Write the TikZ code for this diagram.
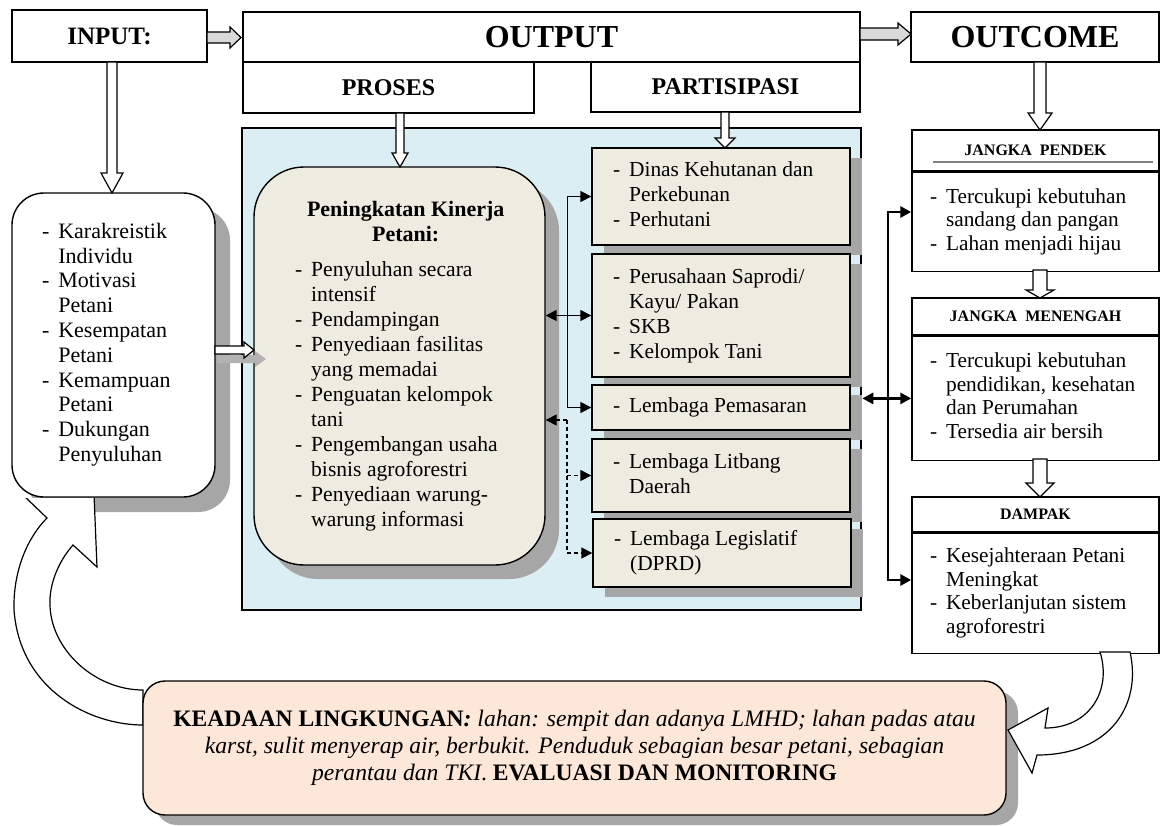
\documentclass[tikz,border=0pt]{standalone}
\usepackage{fontspec}
\setmainfont{Liberation Serif}
\usetikzlibrary{arrows.meta,shadows,positioning}

\definecolor{panelblue}{HTML}{DBEEF3}
\definecolor{kinbeige}{HTML}{EEECE1}
\definecolor{envpeach}{HTML}{FCE7D9}
\definecolor{arrowgray}{HTML}{D9D9D9}
\definecolor{shadegray}{HTML}{A6A6A6}

\tikzset{tri/.tip={Triangle[length=5.5pt,width=5.5pt]}}
\tikzstyle{titlebox} = [draw, line width=0.7pt, inner sep=0pt, fill=white, font=\bfseries]
\tikzstyle{listbox} = [draw, line width=0.7pt, inner sep=0pt, fill=kinbeige, minimum width=129pt, font=\fontsize{10.7}{12.5}\selectfont, drop shadow={shadow xshift=6pt, shadow yshift=-5pt, fill=shadegray, opacity=1}]
\tikzstyle{headbox} = [draw, line width=0.7pt, inner sep=0pt, fill=white, minimum width=123.5pt, font=\fontsize{8}{9}\selectfont\bfseries]
\tikzstyle{bodybox} = [draw, line width=0.7pt, inner sep=0pt, fill=white, minimum width=123.5pt, font=\fontsize{10.65}{11.8}\selectfont]
\tikzstyle{conn} = [line width=0.8pt, tri-tri]
\tikzstyle{bus} = [line width=1.4pt, tri-tri]
\tikzstyle{blockarrow} = [draw, line width=0.6pt, fill=white]

% list with dashes, fixed width, left aligned
\newcommand{\lbox}[2]{\makebox[#1][l]{\begin{tabular}{@{}l@{\hspace{4.5pt}}l@{}}#2\end{tabular}}}
% block arrows: [fill]{x}{y1}{y2}{shaft}{head}{head length}
\newcommand{\blockdown}[7][white]{\filldraw[blockarrow, fill=#1] (#2-#5,#3) -- (#2+#5,#3) -- (#2+#5,#4-#7) -- (#2+#6,#4-#7) -- (#2,#4) -- (#2-#6,#4-#7) -- (#2-#5,#4-#7) -- cycle;}
\newcommand{\blockright}[7][white]{\filldraw[blockarrow, fill=#1] (#3,#2-#5) -- (#4-#7,#2-#5) -- (#4-#7,#2-#6) -- (#4,#2) -- (#4-#7,#2+#6) -- (#4-#7,#2+#5) -- (#3,#2+#5) -- cycle;}

\begin{document}
\begin{tikzpicture}[x=0.5pt,y=-0.5pt]
\useasboundingbox (0,0) rectangle (1161,825);

% top row
\node[titlebox, minimum width=97.5pt, minimum height=26pt, font=\fontsize{12.5}{14}\selectfont\bfseries] (input) at (109.5,36) {INPUT:};
\node[titlebox, minimum width=308.5pt, minimum height=25pt, font=\fontsize{16}{18}\selectfont\bfseries] (output) at (551.5,37) {OUTPUT};
\node[titlebox, minimum width=145.5pt, minimum height=25.5pt, font=\fontsize{12}{14}\selectfont\bfseries] (proses) at (388.5,87.5) {PROSES};
\node[titlebox, minimum width=134.5pt, minimum height=25pt, font=\fontsize{12}{14}\selectfont\bfseries] (partisipasi) at (725.5,87) {PARTISIPASI};
\node[titlebox, minimum width=124pt, minimum height=25pt, font=\fontsize{16}{18}\selectfont\bfseries] (outcome) at (1035,37) {OUTCOME};

% panel
\node[draw, line width=1.3pt, fill=panelblue, minimum width=309.5pt, minimum height=241pt, inner sep=0pt] (panel) at (551.5,369) {};

\node[draw, line width=0.7pt, fill=kinbeige, rounded corners=25pt, minimum width=145.5pt, minimum height=199pt, inner sep=0pt, font=\fontsize{10.8}{12.5}\selectfont, drop shadow={shadow xshift=7pt, shadow yshift=-7pt, fill=shadegray, opacity=1}] (kin) at (399.5,366) {\lbox{104.5pt}{%
\multicolumn{2}{c}{\fontsize{11}{12.5}\selectfont\bfseries Peningkatan Kinerja}\\
\multicolumn{2}{c}{\fontsize{11}{12.5}\selectfont\bfseries Petani:}\\[5pt]
- & Penyuluhan secara\\ & intensif\\
- & Pendampingan\\
- & Penyediaan fasilitas\\ & yang memadai\\
- & Penguatan kelompok\\ & tani\\
- & Pengembangan usaha\\ & bisnis agroforestri\\
- & Penyediaan warung-\\ & warung informasi}};

\node[listbox, minimum height=48.5pt] (p1) at (721,196.5) {\lbox{108pt}{- & Dinas Kehutanan dan\\ & Perkebunan\\ - & Perhutani}};
\node[listbox, minimum height=61.5pt] (p2) at (721,315.5) {\lbox{108pt}{- & Perusahaan Saprodi/\\ & Kayu/ Pakan\\ - & SKB\\ - & Kelompok Tani}};
\node[listbox, minimum height=22.5pt] (p3) at (721,407.5) {\lbox{108pt}{- & Lembaga Pemasaran}};
\node[listbox, minimum height=36.5pt] (p4) at (721,475.5) {\lbox{108pt}{- & Lembaga Litbang\\ & Daerah}};
\node[listbox, minimum height=34pt] (p5) at (722,553) {\lbox{108pt}{- & Lembaga Legislatif\\ & (DPRD)}};

% outcome column
\node[headbox, minimum height=20.5pt] (h1) at (1035.5,150.5) {JANGKA\hspace{4pt}PENDEK};
\node[bodybox, minimum height=49.5pt, below=0pt of h1] (b1) {\lbox{105.5pt}{- & Tercukupi kebutuhan\\ & sandang dan pangan\\ - & Lahan menjadi hijau}};
\draw[line width=1pt, gray] (933,162) -- (1153,162);
\node[headbox, minimum height=18.5pt] (h2) at (1035.5,316.5) {JANGKA\hspace{4pt}MENENGAH};
\node[bodybox, minimum height=62pt, below=0pt of h2] (b2) {\lbox{105.5pt}{- & Tercukupi kebutuhan\\ & pendidikan, kesehatan\\ & dan Perumahan\\ - & Tersedia air bersih}};
\node[headbox, minimum height=17.5pt] (h3) at (1035.5,514.5) {DAMPAK};
\node[bodybox, minimum height=60pt, below=0pt of h3] (b3) {\lbox{105.5pt}{- & Kesejahteraan Petani\\ & Meningkat\\ - & Keberlanjutan sistem\\ & agroforestri}};

% input list
\node[draw, line width=0.7pt, fill=white, rounded corners=16pt, minimum width=101.5pt, minimum height=152pt, inner sep=0pt, font=\fontsize{11}{12.4}\selectfont, drop shadow={shadow xshift=7.5pt, shadow yshift=-7.5pt, fill=shadegray, opacity=1}] (lft) at (113.5,345) {\lbox{71.5pt}{- & Karakreistik\\ & Individu\\ - & Motivasi\\ & Petani\\ - & Kesempatan\\ & Petani\\ - & Kemampuan\\ & Petani\\ - & Dukungan\\ & Penyuluhan}};

% block arrows
\blockright[arrowgray]{37.5}{207}{241}{5.5}{10.5}{11}
\blockright[arrowgray]{34}{860}{911}{6}{11}{13}
\blockdown{112}{62}{193}{5}{11}{20}
\blockdown{400}{113}{167}{4}{8}{14}
\blockdown{725}{112}{148}{4}{10}{10}
\blockdown{1040}{62}{130}{6}{12}{17}
\blockdown{1040}{270}{298}{7}{14}{8}
\blockdown{1040}{459}{497}{7}{14}{14}
\fill[black!30] (217,355) -- (255,355) -- (255,351) -- (266,359) -- (255,367) -- (255,363) -- (217,363) -- cycle;
\blockright{350}{215}{254}{4}{8}{10}

% connectors
\draw[conn] (p1.west) -- ++(-24,0) |- (p3.west);
\draw[conn] (kin.east |- p2.west) -- (p2.west);
\coordinate (dsh) at (567,420);
\draw[conn, dash pattern=on 2pt off 1.5pt, -tri] (dsh) -- (kin.east |- dsh);
\draw[conn, dash pattern=on 2pt off 1.5pt, -tri] (dsh) |- (p5.west);
\draw[conn, dash pattern=on 2pt off 1.5pt, -tri] (dsh |- p4.west) -- (p4.west);
\coordinate (bt) at (888,212);
\coordinate (bb) at (888,580);
\draw[bus] (b1.west |- bt) -- (bt) -- (bb) -- (b3.west |- bb);
\draw[bus] (panel.east |- b2.west) -- (b2.west);

% feedback arrow (left)
\begin{scope}
\clip (0,498) rectangle (300,825);
\filldraw[blockarrow] (143,725) .. controls (90,725) and (20,690) .. (14,610) .. controls (13,570) and (28,537) .. (47,518) -- (22,494) -- (93,470) -- (97,567) -- (73,545) .. controls (58,562) and (49,585) .. (50,605) .. controls (51,650) and (95,690) .. (143,690) -- cycle;
\end{scope}

% environment
\node[draw, line width=0.7pt, fill=envpeach, rounded corners=11pt, minimum width=431.5pt, minimum height=67pt, inner sep=0pt, align=center, font=\fontsize{11.8}{13.5}\selectfont, drop shadow={shadow xshift=6pt, shadow yshift=-5pt, fill=shadegray, opacity=1}] (env) at (574.5,748) {\textbf{KEADAAN LINGKUNGAN\textit{:}} \textit{lahan: sempit dan adanya LMHD; lahan padas atau}\\ \textit{karst, sulit menyerap air, berbukit. Penduduk sebagian besar petani, sebagian}\\ \textit{perantau dan TKI}. \textbf{EVALUASI DAN MONITORING}};

% feedback arrow (right)
\filldraw[blockarrow] (1130,652) .. controls (1142,705) and (1110,755) .. (1037,755) -- (1032,773) -- (1008,730) -- (1048,708) -- (1045,728) .. controls (1090,728) and (1112,690) .. (1100,652) -- cycle;
\end{tikzpicture}
\end{document}
